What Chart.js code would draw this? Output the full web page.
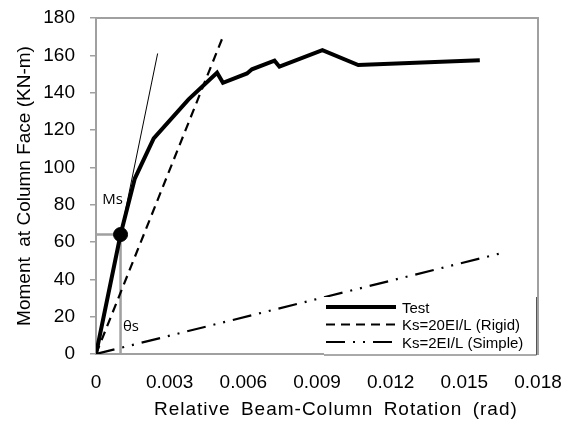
<!DOCTYPE html>
<html>
<head>
<meta charset="utf-8">
<script src="https://cdn.jsdelivr.net/npm/chart.js@4.4.0/dist/chart.umd.min.js"></script>
<style>
  html, body { margin: 0; padding: 0; background: #fff; }
</style>
</head>
<body>
<canvas id="chart" width="566" height="423"></canvas>
<script>
// measured test curve: rotation (rad) vs moment (KN-m)
var testRot = [0, 0.001, 0.00158, 0.00235, 0.00377, 0.00493, 0.00517, 0.00615, 0.00635, 0.00727, 0.00747, 0.00922, 0.01068, 0.01563];
var testMom = [0, 64, 94, 115.5, 136.4, 150.7, 145.3, 150.3, 152.5, 157.1, 153.9, 162.8, 154.8, 157.3];

// stiffness lines
var rigidRot = [0, 0.0052];
var rigidMom = [0, 171];
var simpleRot = [0, 0.0165];
var simpleMom = [0, 54];
var tangentRot = [0, 0.00251];
var tangentMom = [0, 161];

// serviceability point (theta s, Ms)
var msRot = 0.001;
var msMom = 64;

var xTickValues = [0, 0.003, 0.006, 0.009, 0.012, 0.015, 0.018];
var xTickLabels = ["0", "0.003", "0.006", "0.009", "0.012", "0.015", "0.018"];
var yMin = 0, yMax = 180, yStep = 20;

var legendNames = ["Test", "Ks=20EI/L (Rigid)", "Ks=2EI/L (Simple)"];
var xTitle = "Relative Beam-Column Rotation (rad)";
var yTitle = "Moment  at Column Face (KN-m)";

function toPoints(xs, ys) {
    return xs.map(function (x, i) { return { x: x, y: ys[i] }; });
}

var axisGray = "#a0a0a0";
var font = "'Liberation Sans', Arial, sans-serif";

// gray frame around the plot
var framePlugin = {
    id: "frame",
    beforeDatasetsDraw: function (chart) {
        var a = chart.chartArea, c = chart.ctx;
        c.save();
        c.strokeStyle = axisGray;
        c.lineWidth = 2;
        c.strokeRect(a.left, a.top, a.right - a.left, a.bottom - a.top);
        c.restore();
    }
};

// Ms / theta s labels and the (slightly stretched) x title
var notePlugin = {
    id: "notes",
    afterDatasetsDraw: function (chart) {
        var xs = chart.scales.x, ys = chart.scales.y, c = chart.ctx;
        c.save();
        c.fillStyle = "#000";
        c.font = "15px 'Open Sans', sans-serif";
        c.textBaseline = "middle";
        c.textAlign = "left";
        c.fillText("Ms", xs.getPixelForValue(0.00025), ys.getPixelForValue(82.5));
        c.fillText("\u03b8s", xs.getPixelForValue(0.0011), ys.getPixelForValue(14.5));

        c.font = "19px " + font;
        c.letterSpacing = "1px";
        c.wordSpacing = "4px";
        c.fillText(xTitle, xs.left + 58, chart.height - 13);
        c.restore();
    }
};

// legend box inside the plot, lower right
var legendPlugin = {
    id: "boxLegend",
    afterDatasetsDraw: function (chart) {
        var a = chart.chartArea, c = chart.ctx;
        var right = a.right - 2, bottom = a.bottom + 1;
        var left = right - 212, top = bottom - 58;
        c.save();
        c.fillStyle = "#fff";
        c.fillRect(left, top, right - left, bottom - top);
        c.strokeStyle = "#555";
        c.lineWidth = 1;
        c.beginPath();
        c.moveTo(right + 0.5, top);
        c.lineTo(right + 0.5, bottom);
        c.lineTo(left, bottom);
        c.stroke();
        var items = chart.data.datasets.filter(function (d) { return legendNames.indexOf(d.label) >= 0; });
        c.font = "15px " + font;
        c.textBaseline = "middle";
        c.fillStyle = "#000";
        items.forEach(function (d, i) {
            var y = top + 10 + i * 17.5;
            c.strokeStyle = d.borderColor;
            c.lineWidth = d.borderWidth;
            c.setLineDash(d.borderDash || []);
            c.beginPath();
            c.moveTo(left + 2, y);
            c.lineTo(left + 72, y);
            c.stroke();
            c.setLineDash([]);
            c.fillText(d.label, left + 78, y + 1.5);
        });
        c.restore();
    }
};

new Chart(document.getElementById("chart"), {
    type: "scatter",
    data: {
        datasets: [
            {
                label: "Ms point",
                data: [{ x: msRot, y: msMom }],
                pointRadius: 7,
                pointBackgroundColor: "#000",
                pointBorderColor: "#000",
                showLine: false
            },
            {
                label: "Test",
                data: toPoints(testRot, testMom),
                showLine: true,
                borderColor: "#000",
                borderWidth: 4,
                pointRadius: 0,
                tension: 0
            },
            {
                label: "Ks=20EI/L (Rigid)",
                data: toPoints(rigidRot, rigidMom),
                showLine: true,
                borderColor: "#000",
                borderWidth: 2.2,
                borderDash: [9, 6],
                pointRadius: 0
            },
            {
                label: "Ks=2EI/L (Simple)",
                data: toPoints(simpleRot, simpleMom),
                showLine: true,
                borderColor: "#000",
                borderWidth: 2.2,
                borderDash: [19, 8, 2, 8, 2, 8],
                pointRadius: 0
            },
            {
                label: "tangent",
                data: toPoints(tangentRot, tangentMom),
                showLine: true,
                borderColor: "#000",
                borderWidth: 1,
                pointRadius: 0
            },
            {
                label: "Ms guide",
                data: [{ x: 0, y: msMom }, { x: msRot, y: msMom }, { x: msRot, y: 0 }],
                showLine: true,
                borderColor: axisGray,
                borderWidth: 2.5,
                pointRadius: 0,
                order: 5
            }
        ]
    },
    options: {
        responsive: false,
        animation: false,
        events: [],
        layout: { padding: { top: 18, right: 28, left: 0, bottom: 0 } },
        plugins: {
            legend: { display: false },
            tooltip: { enabled: false }
        },
        scales: {
            x: {
                type: "linear",
                min: 0,
                max: 0.018,
                afterBuildTicks: function (scale) {
                    scale.ticks = xTickValues.map(function (v) { return { value: v }; });
                },
                afterFit: function (scale) {
                    scale.height = 69;
                    scale.paddingLeft = 0;
                    scale.paddingRight = 0;
                },
                grid: { display: false, drawTicks: false },
                border: { display: true, color: axisGray, width: 2 },
                ticks: {
                    padding: 17,
                    color: "#000",
                    font: { family: font, size: 19 },
                    maxRotation: 0,
                    callback: function (v, i) { return xTickLabels[i]; }
                },
                title: { display: false }
            },
            y: {
                min: yMin,
                max: yMax,
                afterFit: function (scale) {
                    scale.width = 96;
                    scale.paddingTop = 0;
                    scale.paddingBottom = 0;
                },
                grid: { drawOnChartArea: false, drawTicks: true, tickLength: 6, color: axisGray, lineWidth: 1.5 },
                border: { display: true, color: axisGray, width: 2 },
                ticks: {
                    stepSize: yStep,
                    padding: 15,
                    color: "#000",
                    font: { family: font, size: 19 }
                },
                title: {
                    display: true,
                    text: yTitle,
                    color: "#000",
                    font: { family: font, size: 19 },
                    padding: { top: 13, bottom: 0 }
                }
            }
        }
    },
    plugins: [framePlugin, notePlugin, legendPlugin]
});
</script>
</body>
</html>
